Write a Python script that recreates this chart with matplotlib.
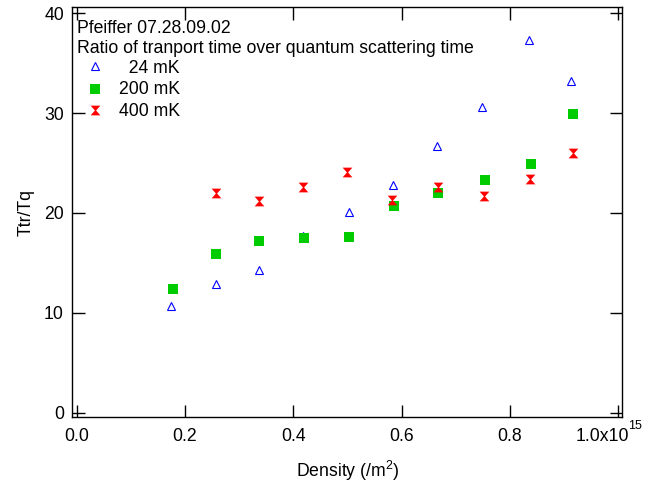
import matplotlib
matplotlib.use("Agg")
import matplotlib.pyplot as plt
from matplotlib.path import Path
from matplotlib.transforms import ScaledTranslation

plt.rcParams["font.family"] = ["Liberation Sans", "DejaVu Sans"]
plt.rcParams["mathtext.default"] = "regular"
FS = 12.7
plt.rcParams["font.size"] = FS

# Density in units of 1e15 /m^2, ratio tau_tr / tau_q
dens_24 = [0.175, 0.257, 0.337, 0.417, 0.502, 0.584, 0.665, 0.749, 0.835, 0.913]
ratio_24 = [10.7, 12.9, 14.3, 17.7, 20.1, 22.8, 26.7, 30.6, 37.3, 33.2]

dens_200 = [0.178, 0.258, 0.337, 0.420, 0.502, 0.585, 0.668, 0.753, 0.838, 0.917]
ratio_200 = [12.35, 15.85, 17.15, 17.45, 17.55, 20.7, 22.05, 23.35, 24.95, 29.95]

dens_400 = [0.258, 0.336, 0.418, 0.500, 0.583, 0.668, 0.752, 0.837, 0.916]
ratio_400 = [22.0, 21.2, 22.6, 24.1, 21.35, 22.65, 21.7, 23.4, 26.05]

labels = ["  24 mK", "200 mK", "400 mK"]
title_lines = ["Pfeiffer 07.28.09.02",
               "Ratio of tranport time over quantum scattering time"]

x_ticks = [0.0, 0.2, 0.4, 0.6, 0.8, 1.0]
x_ticklabels = ["0.0", "0.2", "0.4", "0.6", "0.8", "1.0x10"]
x_exponent = "15"
y_ticks = [0, 10, 20, 30, 40]

# hourglass marker: two triangles meeting at their tips
hourglass = Path([(-1, 1), (1, 1), (0.12, 0), (1, -1), (-1, -1), (-0.12, 0), (-1, 1)],
                 [Path.MOVETO, Path.LINETO, Path.LINETO, Path.LINETO,
                  Path.LINETO, Path.LINETO, Path.CLOSEPOLY])

blue = "#0000FF"
green = "#00CC00"
red = "#FF0000"

fig = plt.figure(figsize=(6.5, 4.87), dpi=100)
ax = fig.add_axes([72.3 / 650, 1 - 416.7 / 487, 550 / 650, 409.4 / 487])

ax.plot(dens_24, ratio_24, linestyle="none", marker="^", markersize=6.4,
        markerfacecolor="none", markeredgecolor=blue, markeredgewidth=0.8)
ax.plot(dens_200, ratio_200, linestyle="none", marker="s", markersize=6.8,
        markerfacecolor=green, markeredgewidth=0)
ax.plot(dens_400, ratio_400, linestyle="none", marker=hourglass, markersize=7.0,
        markerfacecolor=red, markeredgewidth=0)

ax.set_xlim(-0.0081, 1.0074)
ax.set_ylim(-0.4, 40.6)
ax.set_xticks(x_ticks)
ax.set_xticklabels(x_ticklabels)
ax.set_yticks(y_ticks)

for s in ax.spines.values():
    s.set_linewidth(1.0)
ax.tick_params(which="both", direction="in", top=True, right=True,
               length=9, width=1.0, labelsize=FS)
ax.tick_params(axis="x", pad=8)
ax.tick_params(axis="y", pad=6)

# shift the last x label left so its exponent sits to the right
last = ax.get_xticklabels()[-1]
last.set_transform(last.get_transform() + ScaledTranslation(-16 / 100, 0, fig.dpi_scale_trans))
ax.annotate(x_exponent, xy=(1.0, 0), xycoords=("data", "axes fraction"),
            xytext=(10, -3), textcoords="offset pixels",
            ha="left", va="top", fontsize=9)

ax.set_xlabel("Density (/m$^2$)", fontsize=FS, labelpad=10)
ax.set_ylabel("Ttr/Tq", fontsize=FS, labelpad=7)

# annotation block with marker keys
tx = (77 - 72.3) / 550
def fy(py):
    return (416.7 - py) / 409.4

ax.text(tx, fy(33.3), title_lines[0], transform=ax.transAxes, va="baseline", ha="left")
ax.text(tx, fy(52.7), title_lines[1], transform=ax.transAxes, va="baseline", ha="left")

mx = (95 - 72.3) / 550
lx = (119 - 72.3) / 550
ax.plot([mx], [fy(65.7)], transform=ax.transAxes, marker="^", markersize=6.4,
        markerfacecolor="none", markeredgecolor=blue, markeredgewidth=0.8, clip_on=False)
ax.plot([mx], [fy(89)], transform=ax.transAxes, marker="s", markersize=6.8,
        markerfacecolor=green, markeredgewidth=0, clip_on=False)
ax.plot([mx], [fy(110)], transform=ax.transAxes, marker=hourglass, markersize=7.0,
        markerfacecolor=red, markeredgewidth=0, clip_on=False)
for lbl, py in zip(labels, [72.7, 94.3, 116]):
    ax.text(lx, fy(py), lbl, transform=ax.transAxes, va="baseline", ha="left")

fig.savefig("out.png", dpi=100)
